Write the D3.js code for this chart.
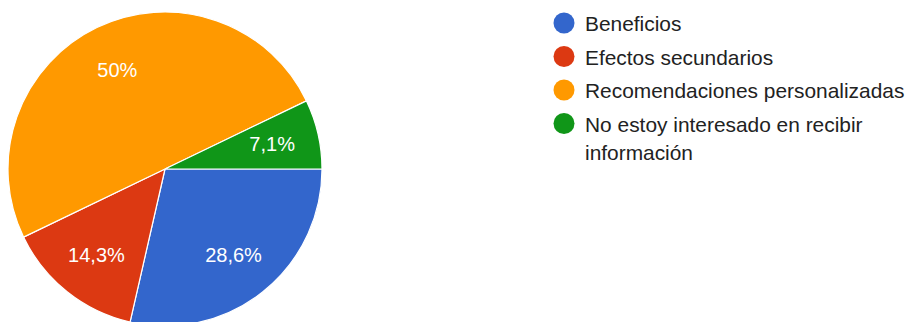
<!DOCTYPE html>
<html>
<head>
<meta charset="utf-8">
<script src="https://cdn.jsdelivr.net/npm/d3@7"></script>
<style>
  body { margin: 0; background: #fff; }
  svg { display: block; font-family: "Liberation Sans", Arial, sans-serif; }
</style>
</head>
<body>
<div id="pie"></div>
<script>
const width = 906;
const height = 322;

// Data
const categories = ["Beneficios", "Efectos secundarios", "Recomendaciones personalizadas", "No estoy interesado en recibir información"];
const legendLines = [["Beneficios"], ["Efectos secundarios"], ["Recomendaciones personalizadas"], ["No estoy interesado en recibir", "información"]];
const counts = [4, 2, 7, 1];
const colors = ["#3366cc", "#dc3912", "#ff9900", "#109618"];

const total = d3.sum(counts);
const fmtPct = v => {
  const s = d3.format(".1f")(v * 100).replace(/\.0$/, "");
  return s.replace(".", ",") + "%";
};

const svg = d3.select("#pie")
  .append("svg")
  .attr("width", width)
  .attr("height", height)
  .attr("viewBox", [0, 0, width, height]);

const radius = 157;
const pieG = svg.append("g")
  .attr("transform", "translate(165, 169)");

// Pie generator, starting at 3 o'clock, clockwise, keeping data order
const pie = d3.pie()
  .sort(null)
  .value(d => d)
  .startAngle(Math.PI / 2)
  .endAngle(Math.PI / 2 + 2 * Math.PI);

const arcs = pie(counts);

const arc = d3.arc().innerRadius(0).outerRadius(radius);
const labelArc = d3.arc().innerRadius(radius * 0.7).outerRadius(radius * 0.7);

pieG.selectAll("path")
  .data(arcs)
  .join("path")
    .attr("d", arc)
    .attr("fill", (d, i) => colors[i])
    .attr("stroke", "#fff")
    .attr("stroke-width", 1.2);

pieG.selectAll("text")
  .data(arcs)
  .join("text")
    .attr("transform", d => `translate(${labelArc.centroid(d)})`)
    .attr("text-anchor", "middle")
    .attr("dy", "0.33em")
    .attr("fill", "#fff")
    .attr("font-size", 20)
    .text(d => fmtPct(d.data / total));

// Legend
const legend = svg.append("g")
  .attr("transform", "translate(564, 23)");

const item = legend.selectAll("g")
  .data(categories)
  .join("g")
    .attr("transform", (d, i) => `translate(0, ${i * 33.5})`);

item.append("circle")
  .attr("r", 10.5)
  .attr("fill", (d, i) => colors[i]);

item.append("text")
  .attr("fill", "#222")
  .attr("font-size", 20.9)
  .selectAll("tspan")
  .data((d, i) => legendLines[i])
  .join("tspan")
    .attr("x", 21)
    .attr("y", (d, j) => 8 + j * 28)
    .text(d => d);
</script>
</body>
</html>
